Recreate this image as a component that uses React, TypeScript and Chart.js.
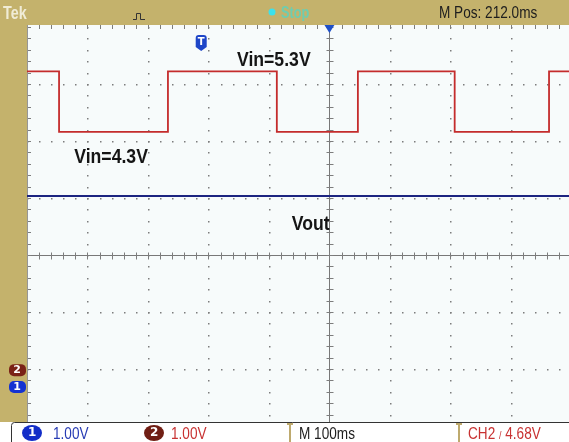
import React, { useEffect, useRef } from "react";
import { Chart, registerables } from "chart.js";

Chart.register(...registerables);

// ---- scope settings ----
const TIME_PER_DIV = 100; // ms / div
const M_POS = 212; // ms, screen centre relative to trigger
const CH1_VOLTS_PER_DIV = 1.0;
const CH2_VOLTS_PER_DIV = 1.0;
const CH1_GROUND_DIV = -2.316;
const CH2_GROUND_DIV = -2.02;
const X_MIN = -288; // ms at left edge of the visible graticule
const X_MAX = 608; // ms at the right edge (screen is cropped)
const Y_MIN_DIV = -2.93;
const Y_MAX_DIV = 4;

// ---- CH2 : Vin square wave (ms, volts) ----
const vinTimes = [-288, -235, -235, -55, -55, 125, 125, 259, 259, 419, 419, 575, 575, 608];
const vinVolts = [5.24, 5.24, 4.18, 4.18, 5.24, 5.24, 4.18, 4.18, 5.24, 5.24, 4.18, 4.18, 5.24, 5.24];

// ---- CH1 : Vout (ms, volts) ----
const voutTimes = [-288, 608];
const voutVolts = [3.35, 3.35];

// ---- annotation labels (text, ms, div) ----
const labelTexts = ["Vin=5.3V", "Vin=4.3V", "Vout"];
const labelTimes = [120, -149, 181];
const labelDivs = [3.42, 1.72, 0.54];

// ---- status bar texts ----
const topTexts = { brand: "Tek", state: "Stop", mpos: "M Pos: 212.0ms" };
const bottomTexts = { ch1: "1.00V", ch2: "1.00V", time: "M 100ms", trig: "4.68V" };

const OLIVE = "rgb(196,178,108)";
const RED = "rgb(196,44,44)";
const BLUE = "rgb(28,36,128)";
const SANS = "'Liberation Sans', Arial, sans-serif";

const scopePlugin = {
  id: "scope",
  beforeDraw(chart: any) {
    const { ctx, chartArea } = chart;
    const W = chart.width;
    const H = chart.height;
    ctx.save();
    ctx.fillStyle = "#ffffff";
    ctx.fillRect(0, 0, W, H);
    ctx.fillStyle = OLIVE;
    ctx.fillRect(0, 0, W, 25);
    ctx.fillRect(0, 0, chartArea.left, chartArea.bottom);
    ctx.fillStyle = "rgb(247,251,251)";
    ctx.fillRect(chartArea.left, 25, chartArea.right - chartArea.left, chartArea.bottom - 25);
    ctx.restore();
  },
  beforeDatasetsDraw(chart: any) {
    const { ctx, chartArea } = chart;
    const xs = chart.scales.x;
    const ys = chart.scales.y;
    const { left, right, top, bottom } = chartArea;
    ctx.save();
    const minorT: number[] = [];
    for (let m = -25; m <= 25; m++) minorT.push(M_POS + (m * TIME_PER_DIV) / 5);
    const minorD: number[] = [];
    for (let m = -15; m <= 20; m++) minorD.push(m / 5);
    // dotted verticals
    ctx.fillStyle = "rgb(125,125,125)";
    for (let k = -4; k <= 5; k++) {
      if (k === 0) continue;
      const px = Math.round(xs.getPixelForValue(M_POS + k * TIME_PER_DIV));
      if (px > right) continue;
      for (const d of minorD) {
        const py = Math.round(ys.getPixelForValue(d));
        if (py < top || py > bottom) continue;
        ctx.fillRect(px, py, 1.5, 1.5);
      }
    }
    // dotted horizontals
    for (let j = -2; j <= 3; j++) {
      if (j === 0) continue;
      const py = Math.round(ys.getPixelForValue(j));
      for (const t of minorT) {
        const px = Math.round(xs.getPixelForValue(t));
        if (px < left || px > right) continue;
        ctx.fillRect(px, py, 1.5, 1.5);
      }
    }
    // centre lines
    const cx = Math.round(xs.getPixelForValue(M_POS)) + 0.5;
    const cy = Math.round(ys.getPixelForValue(0)) + 0.5;
    ctx.strokeStyle = "rgb(120,120,120)";
    ctx.lineWidth = 1;
    ctx.beginPath();
    ctx.moveTo(cx, 25);
    ctx.lineTo(cx, bottom);
    ctx.moveTo(left, cy);
    ctx.lineTo(right, cy);
    ctx.stroke();
    // ticks on centre lines and borders
    ctx.strokeStyle = "rgb(125,125,125)";
    ctx.beginPath();
    for (const t of minorT) {
      const px = Math.round(xs.getPixelForValue(t)) + 0.5;
      if (px < left || px > right) continue;
      ctx.moveTo(px, cy - 3);
      ctx.lineTo(px, cy + 4);
      ctx.moveTo(px, 25);
      ctx.lineTo(px, 29);
    }
    for (const d of minorD) {
      const py = Math.round(ys.getPixelForValue(d)) + 0.5;
      if (py < top || py > bottom) continue;
      ctx.moveTo(cx - 3, py);
      ctx.lineTo(cx + 4, py);
      ctx.moveTo(left, py);
      ctx.lineTo(left + 4, py);
    }
    ctx.stroke();
    ctx.strokeStyle = "rgb(150,150,150)";
    ctx.beginPath();
    ctx.moveTo(left + 0.5, 25);
    ctx.lineTo(left + 0.5, bottom);
    ctx.stroke();
    ctx.restore();
  },
  afterDraw(chart: any) {
    const { ctx, chartArea } = chart;
    const xs = chart.scales.x;
    const ys = chart.scales.y;
    ctx.save();
    // annotations (condensed bold)
    ctx.fillStyle = "#151515";
    ctx.font = "bold 21px " + SANS;
    ctx.textAlign = "center";
    ctx.textBaseline = "middle";
    labelTexts.forEach((s, i) => {
      ctx.save();
      ctx.translate(xs.getPixelForValue(labelTimes[i]), ys.getPixelForValue(labelDivs[i]));
      ctx.scale(0.84, 1);
      ctx.fillText(s, 0, 0);
      ctx.restore();
    });
    // trigger position marker "T"
    const tx = xs.getPixelForValue(0);
    ctx.fillStyle = "rgb(30,70,200)";
    ctx.beginPath();
    ctx.moveTo(tx - 5.5, 38);
    ctx.quadraticCurveTo(tx - 5.5, 35, tx - 2.5, 35);
    ctx.lineTo(tx + 2.5, 35);
    ctx.quadraticCurveTo(tx + 5.5, 35, tx + 5.5, 38);
    ctx.lineTo(tx + 5.5, 47);
    ctx.lineTo(tx, 51);
    ctx.lineTo(tx - 5.5, 47);
    ctx.closePath();
    ctx.fill();
    ctx.fillStyle = "#fff";
    ctx.font = "bold 10px 'DejaVu Sans', sans-serif";
    ctx.fillText("T", tx, 42.5);
    // top centre triangle
    const cx = xs.getPixelForValue(M_POS);
    ctx.fillStyle = "rgb(30,80,200)";
    ctx.beginPath();
    ctx.moveTo(cx - 5, 25);
    ctx.lineTo(cx + 5, 25);
    ctx.lineTo(cx, 33);
    ctx.closePath();
    ctx.fill();
    // pulse icon
    ctx.strokeStyle = "#333";
    ctx.lineWidth = 1;
    ctx.beginPath();
    ctx.moveTo(133, 19.5);
    ctx.lineTo(136.5, 19.5);
    ctx.lineTo(136.5, 13.5);
    ctx.lineTo(140.5, 13.5);
    ctx.lineTo(140.5, 19.5);
    ctx.lineTo(145, 19.5);
    ctx.stroke();
    // cyan status dot
    ctx.fillStyle = "rgb(60,225,235)";
    ctx.beginPath();
    ctx.arc(272, 12, 3.5, 0, Math.PI * 2);
    ctx.fill();
    // ground markers
    const g2 = ys.getPixelForValue(CH2_GROUND_DIV);
    const g1 = ys.getPixelForValue(CH1_GROUND_DIV);
    ctx.fillStyle = "rgb(122,34,22)";
    ctx.beginPath();
    ctx.roundRect(9, g2 - 6, 17, 12, 5);
    ctx.fill();
    ctx.fillStyle = "rgb(20,50,210)";
    ctx.beginPath();
    ctx.roundRect(9, g1 - 6, 17, 12, 5);
    ctx.fill();
    ctx.fillStyle = "#fff";
    ctx.font = "bold 11px 'DejaVu Sans', sans-serif";
    ctx.fillText("2", 17, g2 + 0.5);
    ctx.fillText("1", 17, g1 + 0.5);
    // bottom bar box
    const by = chartArea.bottom;
    ctx.fillStyle = "#fff";
    ctx.fillRect(0, by, chart.width, chart.height - by);
    ctx.strokeStyle = "#333";
    ctx.beginPath();
    ctx.roundRect(11.5, by + 0.5, chart.width + 10, 30, 3);
    ctx.stroke();
    // channel badges
    ctx.fillStyle = "rgb(18,45,200)";
    ctx.beginPath();
    ctx.ellipse(32, by + 11, 10, 8, 0, 0, Math.PI * 2);
    ctx.fill();
    ctx.fillStyle = "rgb(112,30,20)";
    ctx.beginPath();
    ctx.ellipse(154, by + 11, 10, 8, 0, 0, Math.PI * 2);
    ctx.fill();
    // separators
    ctx.strokeStyle = "rgb(190,170,110)";
    ctx.lineWidth = 2;
    [290, 459].forEach((sx) => {
      ctx.beginPath();
      ctx.moveTo(sx, by + 2);
      ctx.lineTo(sx, chart.height);
      ctx.moveTo(sx - 3, by + 2);
      ctx.lineTo(sx + 3, by + 2);
      ctx.stroke();
    });
    ctx.restore();
  },
};

const txt = (extra: React.CSSProperties): React.CSSProperties => ({
  position: "absolute",
  whiteSpace: "nowrap",
  lineHeight: "1",
  fontFamily: SANS,
  transform: "scaleX(0.8)",
  transformOrigin: "left center",
  ...extra,
});

export default function App() {
  const ref = useRef<HTMLCanvasElement | null>(null);
  useEffect(() => {
    document.body.style.margin = "0";
    const canvas = ref.current;
    if (!canvas) return;
    const toDiv = (v: number, vpd: number, g: number) => v / vpd + g;
    const chart = new Chart(canvas, {
      type: "line",
      data: {
        datasets: [
          {
            label: "CH2 Vin",
            data: vinTimes.map((t, i) => ({ x: t, y: toDiv(vinVolts[i], CH2_VOLTS_PER_DIV, CH2_GROUND_DIV) })),
            borderColor: RED,
            borderWidth: 1.8,
            pointRadius: 0,
            tension: 0,
            fill: false,
          },
          {
            label: "CH1 Vout",
            data: voutTimes.map((t, i) => ({ x: t, y: toDiv(voutVolts[i], CH1_VOLTS_PER_DIV, CH1_GROUND_DIV) })),
            borderColor: BLUE,
            borderWidth: 2,
            pointRadius: 0,
            tension: 0,
            fill: false,
          },
        ],
      },
      options: {
        animation: false,
        responsive: false,
        devicePixelRatio: 1,
        layout: { padding: { left: 27, top: 27, right: 0, bottom: 20 } },
        plugins: { legend: { display: false }, tooltip: { enabled: false } },
        scales: {
          x: { type: "linear", min: X_MIN, max: X_MAX, display: false },
          y: { type: "linear", min: Y_MIN_DIV, max: Y_MAX_DIV, display: false },
        },
      },
      plugins: [scopePlugin],
    } as any);
    return () => chart.destroy();
  }, []);

  return (
    <div style={{ position: "relative", width: 569, height: 442, overflow: "hidden" }}>
      <canvas ref={ref} width={569} height={442} style={{ display: "block" }} />
      <div style={txt({ left: 3, top: 4, fontSize: 18, fontWeight: "bold", color: "rgb(240,236,214)" })}>{topTexts.brand}</div>
      <div style={txt({ left: 281, top: 5, fontSize: 16, fontWeight: "bold", color: "rgb(110,205,175)" })}>{topTexts.state}</div>
      <div style={txt({ left: 439, top: 4, fontSize: 17, color: "#1e1e1e" })}>{topTexts.mpos}</div>
      <div style={txt({ left: 28, top: 426, fontSize: 12, fontWeight: "bold", color: "#fff", fontFamily: "'DejaVu Sans', sans-serif", transform: "none" })}>1</div>
      <div style={txt({ left: 53, top: 425, fontSize: 17, color: "rgb(40,60,180)" })}>{bottomTexts.ch1}</div>
      <div style={txt({ left: 150, top: 426, fontSize: 12, fontWeight: "bold", color: "#fff", fontFamily: "'DejaVu Sans', sans-serif", transform: "none" })}>2</div>
      <div style={txt({ left: 171, top: 425, fontSize: 17, color: "rgb(200,50,50)" })}>{bottomTexts.ch2}</div>
      <div style={txt({ left: 299, top: 425, fontSize: 17, color: "#1e1e1e" })}>{bottomTexts.time}</div>
      <div style={txt({ left: 468, top: 425, fontSize: 17, color: "rgb(200,50,50)" })}>
        CH2 <span style={{ fontSize: 11 }}>/</span> {bottomTexts.trig}
      </div>
    </div>
  );
}
